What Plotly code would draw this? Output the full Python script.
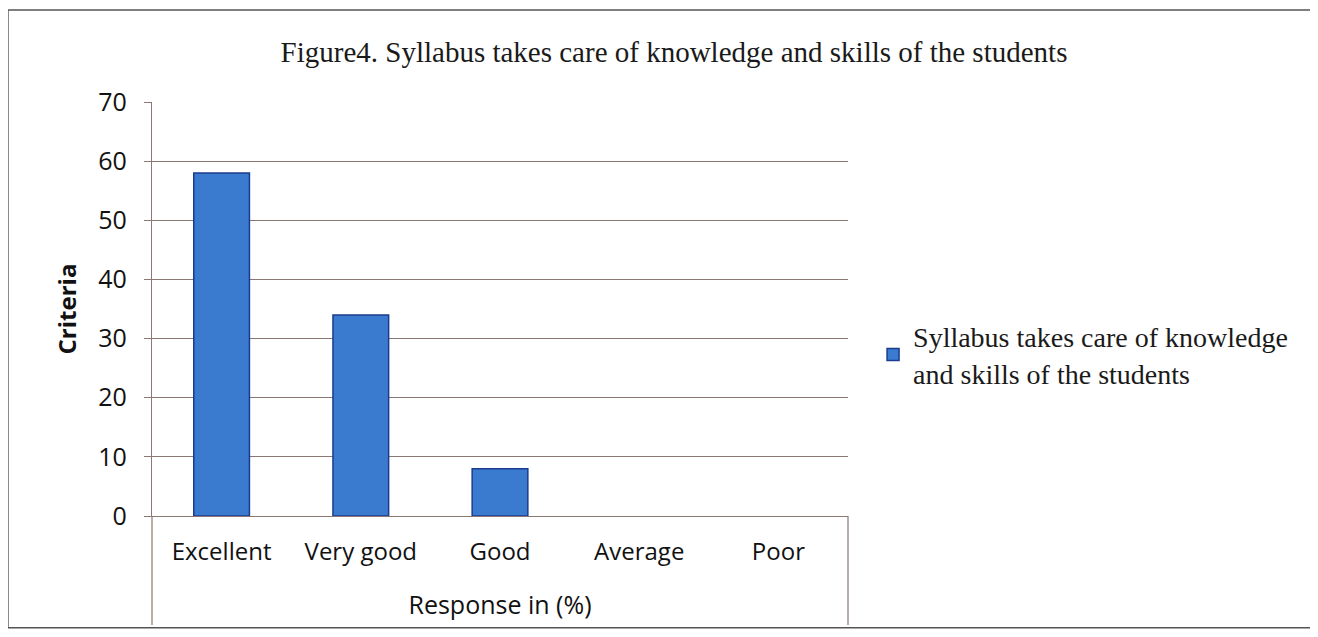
import plotly.graph_objects as go

categories = ["Excellent", "Very good", "Good", "Average", "Poor"]
values = [58, 34, 8, 0, 0]
series_name = "Syllabus takes care of knowledge<br>and skills of the students"
title_text = "Figure4. Syllabus takes care of knowledge and skills of the students"
y_ticks = [0, 10, 20, 30, 40, 50, 60, 70]

fig = go.Figure()
fig.add_trace(go.Bar(
    x=categories, y=values, name=series_name,
    marker=dict(color="#3a7bd0",
                line=dict(color="#1b3c8c", width=[1.5 if v > 0 else 0 for v in values])),
    width=0.4, showlegend=True,
))

grid_col = "#8c7873"
fig.update_layout(
    width=1318, height=637,
    margin=dict(l=144, r=478, t=94, b=129),
    paper_bgcolor="white", plot_bgcolor="white",
    title=dict(text=title_text, x=(666 / 1318), xanchor="center", y=1 - 44 / 637, yanchor="middle",
               font=dict(family="Liberation Serif", size=29, color="#1a1a1a")),
    showlegend=True,
    legend=dict(x=1.036, y=0.39, xanchor="left", yanchor="middle",
                font=dict(family="Liberation Serif", size=28, color="#1a1a1a"),
                bgcolor="rgba(0,0,0,0)", itemwidth=30),
    xaxis=dict(
        showgrid=False, showline=True, linecolor=grid_col, linewidth=1.2,
        ticks="", tickfont=dict(family="Open Sans", size=24, color="#111"),
        ticklabelstandoff=14,
        title=dict(text="Response in (%)", standoff=30,
                   font=dict(family="Open Sans", size=25, color="#111")),
        range=[-0.5, 4.5],
    ),
    yaxis=dict(
        range=[0, 70], tickvals=y_ticks, showgrid=True, gridcolor=grid_col, gridwidth=1.2,
        showline=True, linecolor=grid_col, linewidth=1.2, ticks="outside", ticklen=7,
        tickcolor=grid_col, zeroline=False,
        tickfont=dict(family="Open Sans", size=25, color="#111"),
        ticklabelstandoff=12,
        title=dict(text="<b>Criteria</b>", standoff=14,
                   font=dict(family="Open Sans", size=24, color="#111")),
    ),
)

# decorative frame lines (chart frame around category label area and outer border)
fig.add_shape(type="line", xref="paper", yref="paper", x0=0, x1=0, y0=0, y1=-0.263,
              line=dict(color=grid_col, width=1.2))
fig.add_shape(type="line", xref="paper", yref="paper", x0=1, x1=1, y0=0, y1=-0.263,
              line=dict(color=grid_col, width=1.2))
fig.add_shape(type="rect", xref="paper", yref="paper", x0=-0.207, x1=1.72, y0=-0.27, y1=1.222,
              line=dict(color="#555", width=1.5))

fig.write_html("out.html")
